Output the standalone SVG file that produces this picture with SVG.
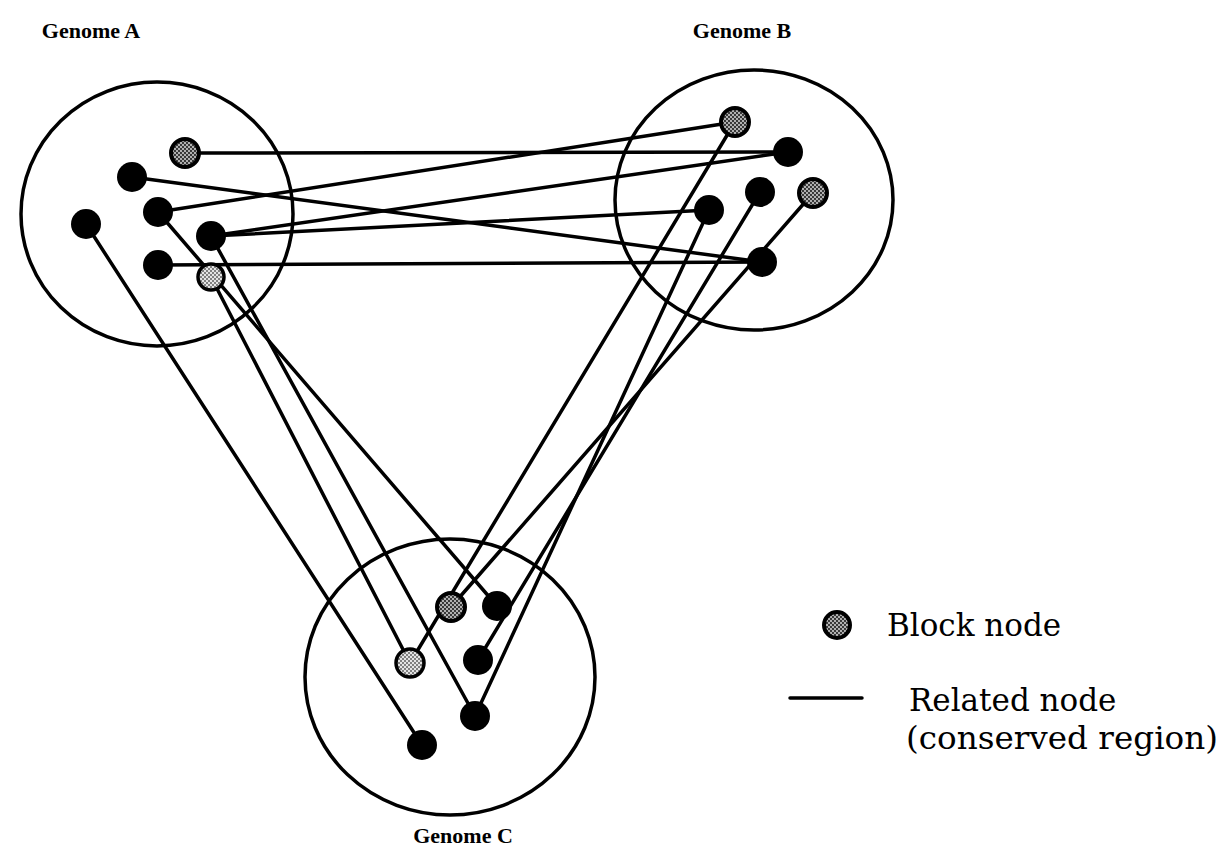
<svg xmlns="http://www.w3.org/2000/svg" width="1230" height="863" viewBox="0 0 1230 863">
  <defs>
    <pattern id="stipple" width="4" height="4" patternUnits="userSpaceOnUse">
      <rect width="4" height="4" fill="#b0b0b0"/>
      <circle cx="1" cy="1" r="0.9" fill="#000"/>
      <circle cx="3" cy="3" r="0.9" fill="#000"/>
    </pattern>
    <pattern id="stippleLight" width="4" height="4" patternUnits="userSpaceOnUse">
      <rect width="4" height="4" fill="#e4e4e4"/>
      <circle cx="1" cy="1" r="0.8" fill="#000"/>
      <circle cx="3" cy="3" r="0.8" fill="#000"/>
    </pattern>
  </defs>
  <style>
    .genome { fill: none; stroke: #000; stroke-width: 3.5; }
    .edge { stroke: #000; stroke-width: 3.5; fill: none; stroke-linecap: round; }
    .node { fill: #000; }
    .block { fill: url(#stipple); stroke: #000; stroke-width: 4; }
    .blockLight { fill: url(#stippleLight); stroke: #000; stroke-width: 3.5; }
    .title { font-family: "Liberation Serif", serif; font-weight: bold; font-size: 22px; fill: #000; }
    .legend { font-family: "DejaVu Serif", "Liberation Serif", serif; font-size: 31px; fill: #000; }
  </style>
  <rect width="1230" height="863" fill="#fff"/>

  <g id="genome-A">
    <ellipse class="genome" cx="157" cy="214" rx="136" ry="132"/>
    <text class="title" x="91" y="38" text-anchor="middle">Genome A</text>
  </g>
  <g id="genome-B">
    <ellipse class="genome" cx="754" cy="200" rx="139" ry="130"/>
    <text class="title" x="742" y="38" text-anchor="middle">Genome B</text>
  </g>
  <g id="genome-C">
    <ellipse class="genome" cx="450" cy="677" rx="145" ry="138"/>
    <text class="title" x="463" y="843" text-anchor="middle">Genome C</text>
  </g>

  <g id="connectors">
    <!-- A to B -->
    <line class="edge" x1="185" y1="153" x2="788" y2="152"/>
    <line class="edge" x1="132" y1="177" x2="762" y2="262"/>
    <line class="edge" x1="158" y1="212" x2="735" y2="122"/>
    <line class="edge" x1="211" y1="236" x2="788" y2="152"/>
    <line class="edge" x1="211" y1="236" x2="709" y2="210"/>
    <line class="edge" x1="158" y1="265" x2="762" y2="262"/>
    <!-- A to C -->
    <line class="edge" x1="86" y1="224" x2="422" y2="745"/>
    <line class="edge" x1="158" y1="212" x2="497" y2="606"/>
    <line class="edge" x1="211" y1="236" x2="475" y2="716"/>
    <line class="edge" x1="211" y1="277" x2="410" y2="663"/>
    <!-- B to C -->
    <line class="edge" x1="735" y1="122" x2="410" y2="663"/>
    <line class="edge" x1="813" y1="193" x2="451" y2="607"/>
    <line class="edge" x1="760" y1="192" x2="478" y2="660"/>
    <line class="edge" x1="709" y1="210" x2="475" y2="716"/>
  </g>

  <g id="nodes-A">
    <circle id="a1" class="block" cx="185" cy="153" r="14"/>
    <circle id="a2" class="node" cx="132" cy="177" r="15"/>
    <circle id="a3" class="node" cx="158" cy="212" r="15"/>
    <circle id="a4" class="node" cx="86" cy="224" r="15"/>
    <circle id="a5" class="node" cx="211" cy="236" r="15"/>
    <circle id="a6" class="node" cx="158" cy="265" r="15"/>
    <circle id="a7" class="blockLight" cx="211" cy="277" r="13"/>
  </g>
  <g id="nodes-B">
    <circle id="b1" class="block" cx="735" cy="122" r="14"/>
    <circle id="b2" class="node" cx="788" cy="152" r="15"/>
    <circle id="b3" class="node" cx="760" cy="192" r="15"/>
    <circle id="b4" class="block" cx="813" cy="193" r="14"/>
    <circle id="b5" class="node" cx="709" cy="210" r="15"/>
    <circle id="b6" class="node" cx="762" cy="262" r="15"/>
  </g>
  <g id="nodes-C">
    <circle id="c1" class="block" cx="451" cy="607" r="14"/>
    <circle id="c2" class="node" cx="497" cy="606" r="15"/>
    <circle id="c3" class="blockLight" cx="410" cy="663" r="14"/>
    <circle id="c4" class="node" cx="478" cy="660" r="15"/>
    <circle id="c5" class="node" cx="475" cy="716" r="15"/>
    <circle id="c6" class="node" cx="422" cy="745" r="15"/>
  </g>

  <g id="legend">
    <circle class="block" cx="837" cy="625" r="13"/>
    <text class="legend" x="887" y="636">Block node</text>
    <line class="edge" x1="790" y1="698" x2="862" y2="698" stroke-linecap="butt"/>
    <text class="legend" x="909" y="711">Related node</text>
    <text class="legend" x="906" y="749" textLength="312" lengthAdjust="spacingAndGlyphs">(conserved region)</text>
  </g>
</svg>
